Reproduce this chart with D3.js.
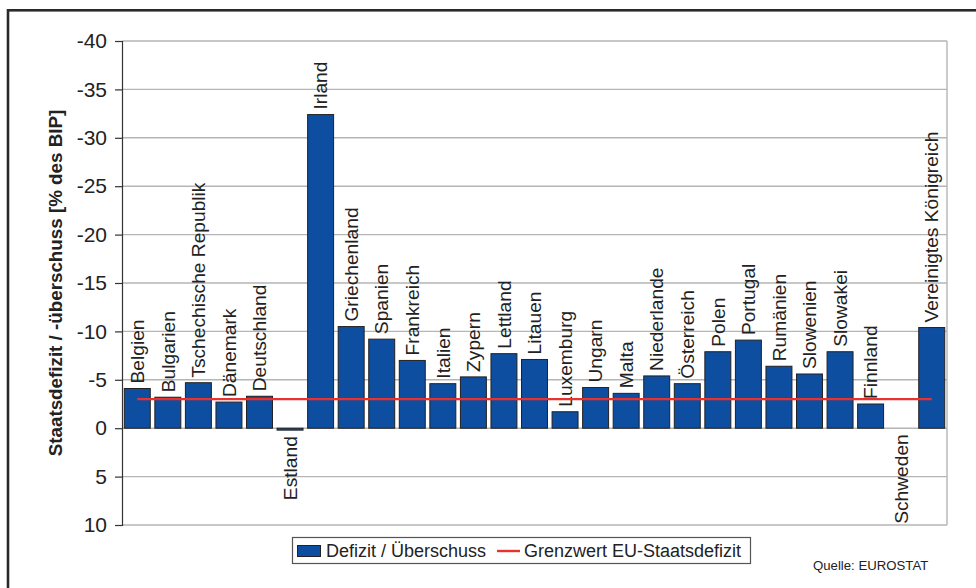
<!DOCTYPE html>
<html>
<head>
<meta charset="utf-8">
<script src="https://cdn.jsdelivr.net/npm/d3@7"></script>
<style>
  html, body { margin: 0; padding: 0; background: #fff; }
  svg { display: block; font-family: "Liberation Sans", Arial, sans-serif; }
</style>
</head>
<body>
<svg id="chart" width="976" height="588"></svg>
<script>
// Staatsdefizit (-) / -überschuss (+) der EU-Mitgliedstaaten in % des BIP
const countries = [
  "Belgien", "Bulgarien", "Tschechische Republik", "Dänemark", "Deutschland",
  "Estland", "Irland", "Griechenland", "Spanien", "Frankreich", "Italien",
  "Zypern", "Lettland", "Litauen", "Luxemburg", "Ungarn", "Malta",
  "Niederlande", "Österreich", "Polen", "Portugal", "Rumänien", "Slowenien",
  "Slowakei", "Finnland", "Schweden", "Vereinigtes Königreich"
];
const balance = [
  -4.1, -3.2, -4.7, -2.7, -3.3,
  0.2, -32.4, -10.5, -9.2, -7.0, -4.6,
  -5.3, -7.7, -7.1, -1.7, -4.2, -3.6,
  -5.4, -4.6, -7.9, -9.1, -6.4, -5.6,
  -7.9, -2.5, 0.0, -10.4
];
const euLimit = -3;
const yTicks = [-40, -35, -30, -25, -20, -15, -10, -5, 0, 5, 10];
const seriesLabels = ["Defizit / Überschuss", "Grenzwert EU-Staatsdefizit"];
const yTitle = "Staatsdefizit / -überschuss [% des BIP]";
const sourceNote = "Quelle: EUROSTAT";

const svg = d3.select("#chart");
const plot = { left: 122, right: 947, top: 41, bottom: 525 };
const barFill = "#0d4ea1";
const ink = "#222";

// outer frame (runs off the right and bottom edges)
svg.append("rect")
  .attr("x", 8).attr("y", 10.3)
  .attr("width", 1100).attr("height", 800)
  .attr("fill", "none").attr("stroke", "#2a2a2a").attr("stroke-width", 2.6);

const x = d3.scaleBand()
  .domain(countries)
  .range([plot.left, plot.right])
  .paddingInner(0.15)
  .paddingOuter(0.075);

const y = d3.scaleLinear()
  .domain([yTicks[0], yTicks[yTicks.length - 1]])
  .range([plot.top, plot.bottom]);

// horizontal gridlines
svg.append("g")
  .selectAll("line")
  .data(yTicks)
  .join("line")
  .attr("x1", plot.left).attr("x2", plot.right)
  .attr("y1", d => y(d)).attr("y2", d => y(d))
  .attr("stroke", "#b5b5b5").attr("stroke-width", 1.4);

// right border of plot area
svg.append("line")
  .attr("x1", plot.right).attr("x2", plot.right)
  .attr("y1", plot.top).attr("y2", plot.bottom)
  .attr("stroke", "#b5b5b5").attr("stroke-width", 1.4);

// y axis
const yAxis = d3.axisLeft(y)
  .tickValues(yTicks)
  .tickSize(7)
  .tickPadding(8)
  .tickFormat(d => String(d));

const axisG = svg.append("g")
  .attr("transform", `translate(${plot.left},0)`)
  .call(yAxis);
axisG.select(".domain").attr("stroke", "#333").attr("stroke-width", 1.2);
axisG.selectAll(".tick line").attr("stroke", "#333").attr("stroke-width", 1.2);
axisG.selectAll(".tick text")
  .attr("font-family", "'Liberation Sans', Arial, sans-serif")
  .attr("font-size", 21)
  .attr("fill", ink);

// y axis title
svg.append("text")
  .attr("transform", `translate(62,283) rotate(-90)`)
  .attr("text-anchor", "middle")
  .attr("font-size", 18.8)
  .attr("font-weight", "bold")
  .attr("fill", ink)
  .text(yTitle);

const data = countries.map((c, i) => ({ country: c, value: balance[i] }));

// bars
svg.append("g")
  .selectAll("rect")
  .data(data)
  .join("rect")
  .attr("x", d => x(d.country))
  .attr("width", x.bandwidth())
  .attr("y", d => Math.min(y(d.value), y(0)))
  .attr("height", d => Math.abs(y(d.value) - y(0)))
  .attr("fill", barFill)
  .attr("stroke", ink)
  .attr("stroke-width", 1);

// category labels: above deficit bars, below surplus / zero bars
svg.append("g")
  .selectAll("text")
  .data(data)
  .join("text")
  .attr("transform", d => {
    const cx = x(d.country) + x.bandwidth() / 2;
    const cy = d.value < 0 ? y(d.value) - 5 : y(d.value) + 6;
    return `translate(${cx},${cy}) rotate(-90)`;
  })
  .attr("text-anchor", d => d.value < 0 ? "start" : "end")
  .attr("dy", "0.35em")
  .attr("font-size", 19.2)
  .attr("fill", ink)
  .text(d => d.country);

// EU limit line (-3 % des BIP)
const first = countries[0], last = countries[countries.length - 1];
svg.append("line")
  .attr("x1", x(first) + x.bandwidth() / 2)
  .attr("x2", x(last) + x.bandwidth() / 2)
  .attr("y1", y(euLimit)).attr("y2", y(euLimit))
  .attr("stroke", "#e8322f").attr("stroke-width", 2.4);

// legend
const legend = svg.append("g");
legend.append("rect")
  .attr("x", 292.5).attr("y", 537.5)
  .attr("width", 458).attr("height", 26)
  .attr("fill", "#fff").attr("stroke", "#555").attr("stroke-width", 1.2);
legend.append("rect")
  .attr("x", 297.5).attr("y", 545.5)
  .attr("width", 23).attr("height", 11)
  .attr("fill", barFill).attr("stroke", ink).attr("stroke-width", 1);
legend.append("text")
  .attr("x", 326).attr("y", 557)
  .attr("font-size", 18).attr("fill", ink)
  .text(seriesLabels[0]);
legend.append("line")
  .attr("x1", 497).attr("x2", 520)
  .attr("y1", 551).attr("y2", 551)
  .attr("stroke", "#e8322f").attr("stroke-width", 2.4);
legend.append("text")
  .attr("x", 524).attr("y", 557)
  .attr("font-size", 18).attr("fill", ink)
  .text(seriesLabels[1]);

// source note
svg.append("text")
  .attr("x", 813).attr("y", 570)
  .attr("font-size", 13.2).attr("fill", ink)
  .text(sourceNote);
</script>
</body>
</html>
